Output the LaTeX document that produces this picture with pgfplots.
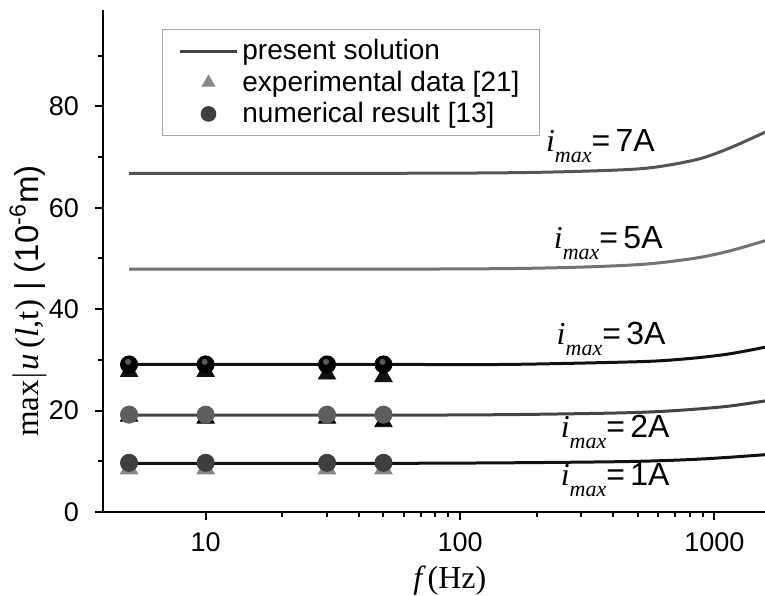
\documentclass[border=0pt]{standalone}
\usepackage{pgfplots}
\pgfplotsset{compat=1.18}
\usepackage{fontspec}
\setmainfont{Liberation Sans}
\newfontfamily\serif{Liberation Serif}

\definecolor{lseven}{HTML}{555555}
\definecolor{lfive}{HTML}{737373}
\definecolor{lthree}{HTML}{111111}
\definecolor{ltwo}{HTML}{444444}
\definecolor{lone}{HTML}{111111}
\definecolor{trigray}{HTML}{888888}
\definecolor{dotdark}{HTML}{3e3e3e}
\definecolor{dotmid}{HTML}{5e5e5e}

\newcommand{\imax}[1]{{\fontsize{16}{16}\selectfont{\serif\itshape i}\raisebox{-5.5pt}{\fontsize{11}{11}\selectfont\serif\itshape max}=\,#1A}}

\begin{document}
\begin{tikzpicture}
\begin{axis}[
    width=331pt, height=251pt, scale only axis,
    xmode=log,
    xmin=3.95, xmax=1580,
    ymin=0, ymax=99,
    axis x line=bottom, axis y line=left,
    axis line style={-, line width=1.2pt},
    xtick={10,100,1000},
    xticklabels={10,100,1000},
    ytick={0,20,40,60,80},
    minor ytick={10,30,50,70,90},
    tick align=outside,
    major tick length=4pt, minor tick length=2.5pt,
    every tick/.style={black, line width=1pt},
    /pgf/number format/assume math mode=true,
    tick label style={font=\fontsize{13.5}{13.5}\selectfont},
    xticklabel style={yshift=-3pt},
    yticklabel style={xshift=-4.5pt},
    xlabel={{\serif\itshape f}\,{\serif(Hz)}},
    xlabel style={font=\fontsize{16}{16}\selectfont, at={(axis description cs:0.524,-0.137)}, anchor=center},
    ylabel={{\serif max$|$\textit{u}\,(\textit{l},t)} | (10\textsuperscript{-6}m)},
    ylabel style={font=\fontsize{16.5}{16.5}\selectfont, at={(axis description cs:-0.113,0.42)}, anchor=center},
    legend image code/.code={\draw[mark repeat=2,mark phase=2,#1] plot coordinates {(0cm,0cm) (0.5cm,0cm) (1cm,0cm)};},
    legend cell align=left,
    legend style={at={(axis description cs:0.089,0.962)}, anchor=north west,
        draw=gray!70, line width=0.6pt, font=\fontsize{14}{14.5}\selectfont,
        inner xsep=8pt, inner ysep=3pt, row sep=0pt},
]

% legend entries
\addlegendimage{line width=1.5pt, color=ltwo}
\addlegendentry{present solution}
\addlegendimage{only marks, mark=triangle*, mark size=3.5pt, color=trigray}
\addlegendentry{experimental data [21]}
\addlegendimage{only marks, mark=*, mark size=3.6pt, color=dotdark}
\addlegendentry{numerical result [13]}

% experimental data (triangles)
\addplot[forget plot, only marks, mark=triangle*, mark size=5pt, color=lthree]
    coordinates {(5,27.7)(10,27.7)(30,27.2)(50,26.7)};
\addplot[forget plot, only marks, mark=triangle*, mark size=5pt, color=black]
    coordinates {(5,18.9)(10,18.5)(30,18.5)(50,17.8)};
\addplot[forget plot, only marks, mark=triangle*, mark size=5pt, color=trigray]
    coordinates {(5,8.5)(10,8.5)(30,8.5)(50,8.5)};

% present solution
\addplot[forget plot, smooth, line width=1.5pt, color=lseven]
    coordinates {(5,66.8)(50,66.8)(150,66.9)(300,67.2)(540,67.8)(850,69.5)(1150,71.8)(1580,74.9)};
\addplot[forget plot, smooth, line width=1.5pt, color=lfive]
    coordinates {(5,47.9)(50,47.9)(150,48.0)(300,48.3)(540,48.9)(850,50.1)(1150,51.5)(1580,53.5)};
\addplot[forget plot, smooth, line width=1.5pt, color=lthree]
    coordinates {(5,29.1)(50,29.1)(150,29.1)(390,29.5)(600,29.8)(850,30.4)(1150,31.2)(1580,32.5)};
\addplot[forget plot, smooth, line width=1.5pt, color=ltwo]
    coordinates {(5,19.1)(50,19.1)(150,19.2)(390,19.5)(600,19.8)(850,20.3)(1150,20.9)(1580,21.9)};
\addplot[forget plot, smooth, line width=1.5pt, color=lone]
    coordinates {(5,9.6)(50,9.6)(150,9.7)(390,9.9)(600,10.1)(850,10.4)(1150,10.8)(1580,11.3)};

% numerical result (circles)
\addplot[forget plot, only marks, mark=*, mark size=4.3pt, color=black]
    coordinates {(5,29.1)(10,29.1)(30,29.1)(50,29.1)};
\addplot[forget plot, only marks, mark=*, mark size=1.3pt, color=gray!70!black, mark options={xshift=-0.5pt, yshift=1.3pt}]
    coordinates {(5,29.1)(10,29.1)(30,29.1)(50,29.1)};
\addplot[forget plot, only marks, mark=*, mark size=4.3pt, color=dotmid]
    coordinates {(5,19.2)(10,19.2)(30,19.2)(50,19.2)};
\addplot[forget plot, only marks, mark=*, mark size=4.3pt, color=dotdark]
    coordinates {(5,9.7)(10,9.7)(30,9.7)(50,9.7)};

% curve labels
\node[anchor=base west, inner sep=0pt] at (axis cs:217,71.1) {\imax{7}};
\node[anchor=base west, inner sep=0pt] at (axis cs:233,52.0) {\imax{5}};
\node[anchor=base west, inner sep=0pt] at (axis cs:239,33.1) {\imax{3}};
\node[anchor=base west, inner sep=0pt] at (axis cs:248,14.6) {\imax{2}};
\node[anchor=base west, inner sep=0pt] at (axis cs:248,5.3) {\imax{1}};
\end{axis}
\pgfresetboundingbox
\path (-51.5pt,-41.5pt) rectangle (331pt,256pt);
\end{tikzpicture}
\end{document}
